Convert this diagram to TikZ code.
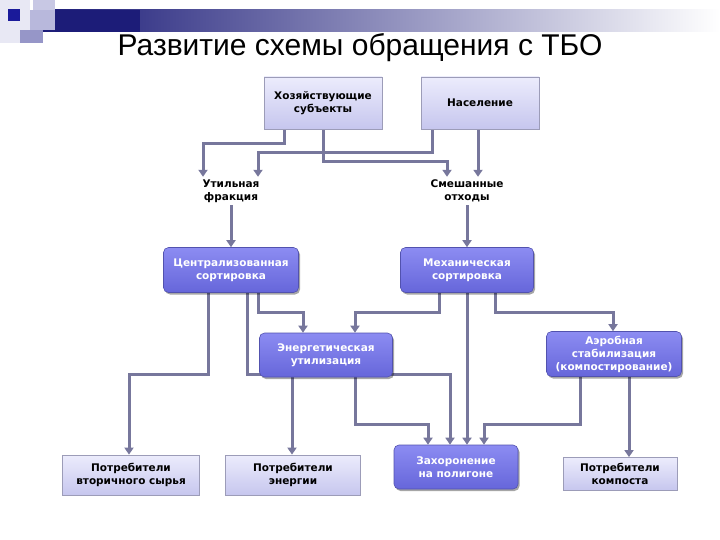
\documentclass[tikz,border=0pt]{standalone}
\usepackage{fontspec}
\setmainfont{Liberation Sans}
\newfontfamily\boxfont{DejaVu Sans}
\usetikzlibrary{arrows.meta,shadows,calc}
\pgfdeclarelayer{bg}
\pgfsetlayers{bg,main}
\definecolor{conncol}{HTML}{77779C}
\definecolor{darktop}{HTML}{8C8CF2}
\definecolor{darkbot}{HTML}{6666DA}
\definecolor{lighttop}{HTML}{ECECFC}
\definecolor{lightbot}{HTML}{C6C6EE}
\definecolor{lightborder}{HTML}{9C9CB8}
\definecolor{navy}{HTML}{1C1C78}
\tikzset{
  lightbox/.style={draw=lightborder, line width=0.8pt, top color=lighttop, bottom color=lightbot,
    align=center, inner sep=2pt, font=\boxfont\bfseries\fontsize{10.5}{13}\selectfont, text=black},
  darkbox/.style={draw=darkbot!80!black, line width=0.6pt, rounded corners=5pt, top color=darktop, bottom color=darkbot,
    align=center, inner sep=2pt, font=\boxfont\bfseries\fontsize{10.5}{13}\selectfont, text=white,
    drop shadow={shadow xshift=1.5pt, shadow yshift=-2pt, opacity=0.35, fill=black}},
  plainlabel/.style={align=center, inner sep=2pt, font=\boxfont\bfseries\fontsize{10.5}{13}\selectfont, text=black},
  conn/.style={draw=conncol, line width=3pt, -{Triangle[width=9pt,length=7pt]}},
}
\begin{document}
\begin{tikzpicture}[x=1pt,y=-1pt]
\useasboundingbox (0,0) rectangle (720,540);
% decoration
\shade[left color=navy, right color=white, shading angle=90] (43,10) rectangle (720,32);
\fill[navy] (55,10) rectangle (140,32);
\fill[color={rgb,255:red,232;green,232;blue,244}] (0,0) rectangle (30,43);
\fill[color={rgb,255:red,200;green,200;blue,228}] (33,0) rectangle (55,10);
\fill[color={rgb,255:red,184;green,184;blue,220}] (30,10) rectangle (55,30);
\fill[color={rgb,255:red,150;green,150;blue,200}] (20,30) rectangle (43,43);
\fill[color={rgb,255:red,26;green,26;blue,154}] (8,9) rectangle (20,21);
% title
\node (title) at (360,48) {\fontsize{30}{32}\selectfont Развитие схемы обращения с ТБО};
% nodes
\node[lightbox, minimum width=118, minimum height=52] (hoz) at (323,103) {Хозяйствующие\\субъекты};
\node[lightbox, minimum width=118, minimum height=52] (nas) at (480,103) {Население};
\node[plainlabel, minimum width=80, minimum height=28] (util) at (231,191) {Утильная\\фракция};
\node[plainlabel, minimum width=80, minimum height=28] (smesh) at (467,191) {Смешанные\\отходы};
\node[darkbox, minimum width=135, minimum height=45] (centr) at (231,270) {Централизованная\\сортировка};
\node[darkbox, minimum width=133, minimum height=45] (mech) at (467,270) {Механическая\\сортировка};
\node[darkbox, minimum width=133, minimum height=44] (energ) at (326,355) {Энергетическая\\утилизация};
\node[darkbox, minimum width=135, minimum height=45] (aerob) at (614,354) {Аэробная\\стабилизация\\(компостирование)};
\node[lightbox, minimum width=137, minimum height=40] (potr1) at (131,475) {Потребители\\вторичного сырья};
\node[lightbox, minimum width=135, minimum height=40] (potr2) at (293,475) {Потребители\\энергии};
\node[darkbox, minimum width=124, minimum height=44] (zah) at (456,467) {Захоронение\\на полигоне};
\node[lightbox, minimum width=114, minimum height=33] (potr3) at (620,474) {Потребители\\компоста};
% connectors
\begin{pgfonlayer}{bg}
\draw[conn] ([xshift=-39pt]hoz.south) -- ++(0,14) -| ([xshift=-28pt]util.north);
\draw[conn] ([xshift=-48pt]nas.south) -- ++(0,23) -| ([xshift=27pt]util.north);
\draw[conn] (hoz.south) -- ++(0,32) -| ([xshift=-20pt]smesh.north);
\draw[conn] ([xshift=-2pt]nas.south) -- ([xshift=11pt]smesh.north);
\draw[conn] (util.south) -- (centr.north);
\draw[conn] (smesh.south) -- (mech.north);
\draw[conn] ([xshift=-23pt]centr.south) -- ++(0,81.5) -| ([xshift=-2pt]potr1.north);
\draw[conn] ([xshift=16pt]centr.south) -- ++(0,81.5) -| ([xshift=-6pt]zah.north);
\draw[conn] ([xshift=27pt]centr.south) -- ++(0,19.5) -| ([xshift=-23pt]energ.north);
\draw[conn] ([xshift=-28pt]mech.south) -- ++(0,19.5) -| ([xshift=29pt]energ.north);
\draw[conn] (mech.south) -- ([xshift=11pt]zah.north);
\draw[conn] ([xshift=28pt]mech.south) -- ++(0,19.5) -| ([xshift=-1pt]aerob.north);
\draw[conn] ([xshift=-34pt]aerob.south) -- ++(0,47.5) -| ([xshift=28pt]zah.north);
\draw[conn] ([xshift=15pt]aerob.south) -- ([xshift=9pt]potr3.north);
\draw[conn] ([xshift=-34pt]energ.south) -- ([xshift=-1pt]potr2.north);
\draw[conn] ([xshift=29pt]energ.south) -- ++(0,47) -| ([xshift=-28pt]zah.north);
\end{pgfonlayer}
\end{tikzpicture}
\end{document}
